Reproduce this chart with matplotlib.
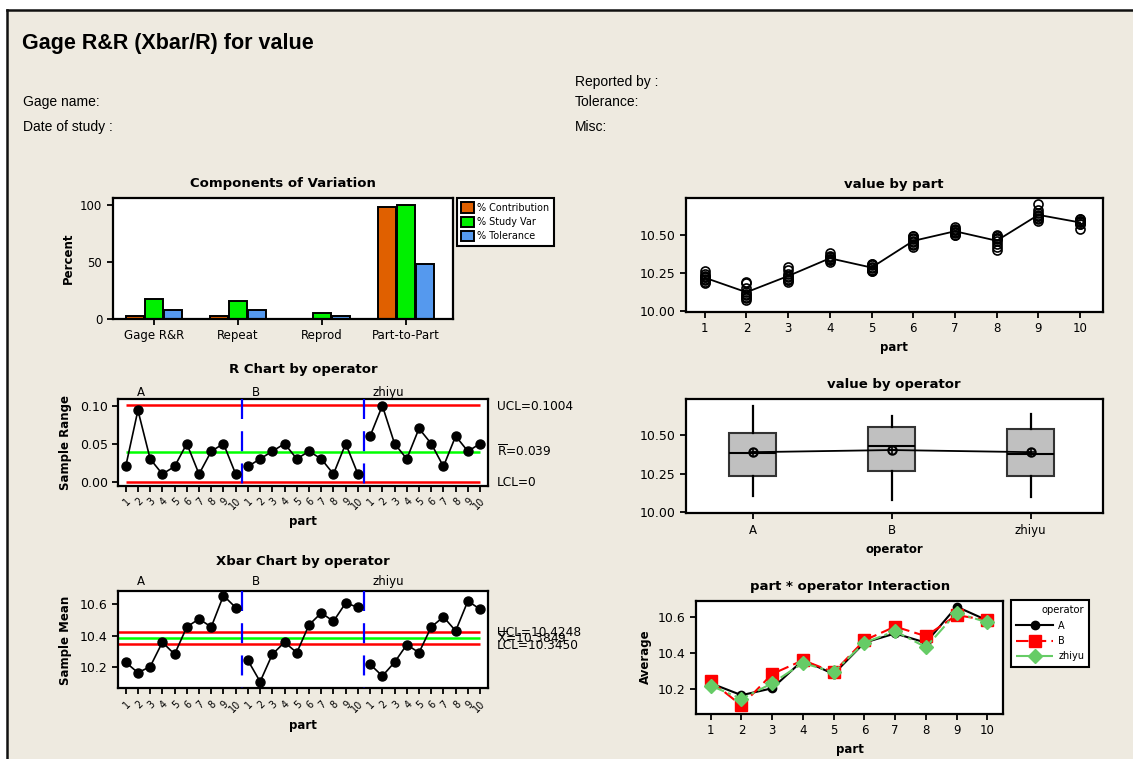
import numpy as np
import matplotlib
matplotlib.use("Agg")
from matplotlib import pyplot as plt
from matplotlib.lines import Line2D
from matplotlib.patches import Rectangle
import matplotlib.transforms as mtransforms
from matplotlib.ticker import FormatStrFormatter

plt.rcParams['font.family'] = ['DejaVu Sans']

# ---------------------------------------------------------------- data
components = ['Gage R&R', 'Repeat', 'Reprod', 'Part-to-Part']
pct_contribution = [3.0, 2.5, 0.3, 98.0]
pct_study_var = [17.2, 15.6, 5.0, 99.5]
pct_tolerance = [8.3, 8.1, 2.8, 48.0]

operators = ['A', 'B', 'zhiyu']
parts = np.arange(1, 11)

# sample ranges (3 trials) per part, one list per operator
range_A = [0.02, 0.094, 0.03, 0.01, 0.02, 0.05, 0.01, 0.04, 0.05, 0.01]
range_B = [0.02, 0.03, 0.04, 0.05, 0.03, 0.04, 0.03, 0.01, 0.05, 0.01]
range_zhiyu = [0.06, 0.10, 0.05, 0.03, 0.07, 0.05, 0.02, 0.06, 0.04, 0.05]

# sample means per part, one list per operator
mean_A = [10.232, 10.166, 10.204, 10.359, 10.283, 10.456, 10.507, 10.456, 10.655, 10.579]
mean_B = [10.244, 10.109, 10.283, 10.359, 10.293, 10.469, 10.545, 10.492, 10.608, 10.581]
mean_zhiyu = [10.219, 10.145, 10.232, 10.344, 10.293, 10.456, 10.520, 10.431, 10.621, 10.568]

r_ucl, r_bar, r_lcl = 0.1004, 0.039, 0.0
x_ucl, x_bar, x_lcl = 10.4248, 10.3849, 10.3450

# all measurements for each part
part_obs = [
    [10.18, 10.19, 10.20, 10.21, 10.22, 10.22, 10.23, 10.24, 10.26],
    [10.07, 10.08, 10.09, 10.10, 10.11, 10.12, 10.15, 10.18, 10.19],
    [10.19, 10.20, 10.20, 10.21, 10.22, 10.23, 10.24, 10.27, 10.29],
    [10.32, 10.33, 10.33, 10.34, 10.34, 10.35, 10.35, 10.36, 10.38],
    [10.26, 10.26, 10.27, 10.27, 10.28, 10.29, 10.30, 10.31, 10.31],
    [10.42, 10.43, 10.44, 10.45, 10.46, 10.47, 10.48, 10.49, 10.49],
    [10.50, 10.50, 10.51, 10.52, 10.52, 10.53, 10.53, 10.54, 10.55],
    [10.40, 10.42, 10.44, 10.46, 10.47, 10.48, 10.48, 10.49, 10.50],
    [10.59, 10.60, 10.61, 10.62, 10.62, 10.63, 10.64, 10.66, 10.70],
    [10.54, 10.57, 10.57, 10.58, 10.58, 10.59, 10.59, 10.60, 10.60],
]

# box plot summary per operator
op_q1 = [10.234, 10.266, 10.234]
op_med = [10.386, 10.428, 10.376]
op_q3 = [10.517, 10.554, 10.541]
op_lo = [10.105, 10.079, 10.094]
op_hi = [10.694, 10.628, 10.641]
op_mean = [10.390, 10.404, 10.390]

# ---------------------------------------------------------------- layout helpers
W, H = 1133, 759
BG = '#EEEAE0'


def rect(x0, y0, x1, y1):
    return [x0 / W, 1 - y1 / H, (x1 - x0) / W, (y1 - y0) / H]


def fx(x):
    return x / W


def fy(y):
    return 1 - y / H


def style_axes(ax, xsize=8.5, ysize=9):
    for sp in ax.spines.values():
        sp.set_linewidth(1.6)
    ax.tick_params(direction='out', length=4, width=1.3, labelsize=ysize)
    ax.tick_params(axis='x', labelsize=xsize)
    ax.tick_params(top=False, right=False)


def sep_lines(ax, ylo, yhi):
    for xv in (10.5, 20.5):
        ax.plot([xv, xv], [yhi, ylo], color='#0000FF', lw=1.6,
                ls=(0, (9, 5.5)), zorder=3)


def limit_labels(ax, items, fs=8.7):
    trans = mtransforms.blended_transform_factory(ax.transAxes, ax.transData)
    t = mtransforms.offset_copy(trans, fig=fig, y=-0.36 * fs, units='points')
    for val, txt in items:
        ax.text(1.023, val, txt, transform=t, fontsize=fs, va='baseline',
                ha='left', clip_on=False)


def operator_labels(ax, ypos):
    trans = mtransforms.blended_transform_factory(ax.transData, ax.transAxes)
    for xo, name in zip([1.9, 11.3, 21.2], operators):
        ax.text(xo, ypos, name, transform=trans, fontsize=8.5, va='baseline')


fig = plt.figure(figsize=(W / 100, H / 100), dpi=100)
fig.patch.set_facecolor('white')
fig.add_artist(Rectangle((fx(7), 0), 1 - fx(7), fy(10), transform=fig.transFigure,
                         facecolor=BG, edgecolor='none', zorder=-10))
fig.add_artist(Line2D([fx(7), fx(7)], [0, fy(10)], transform=fig.transFigure,
                      color='#111111', lw=1.8))
fig.add_artist(Line2D([fx(7), 1], [fy(10), fy(10)], transform=fig.transFigure,
                      color='#111111', lw=1.8))

# header
fig.text(fx(22), fy(49), 'Gage R&R (Xbar/R) for value', fontsize=15.5,
         fontweight='bold', family='Liberation Sans', va='baseline')
hdr = dict(fontsize=10, family='Liberation Sans', va='baseline')
fig.text(fx(23), fy(106), 'Gage name:', **hdr)
fig.text(fx(23), fy(131), 'Date of study :', **hdr)
fig.text(fx(575), fy(86), 'Reported by :', **hdr)
fig.text(fx(575), fy(106), 'Tolerance:', **hdr)
fig.text(fx(575), fy(131), 'Misc:', **hdr)

ttl = dict(fontsize=9.5, fontweight='bold', ha='center', va='baseline')
lab = dict(fontsize=8.5, fontweight='bold', ha='center', va='center')

# ---------------------------------------------------------------- components of variation
ax_c = fig.add_axes(rect(112.7, 198, 453, 319))
xc = np.arange(len(components))
bw = 0.22
ax_c.bar(xc - 0.225, pct_contribution, bw, color='#E06000', edgecolor='black',
         lw=1.4, label='% Contribution')
ax_c.bar(xc, pct_study_var, bw, color='#00F000', edgecolor='black',
         lw=1.4, label='% Study Var')
ax_c.bar(xc + 0.225, pct_tolerance, bw, color='#5599EE', edgecolor='black',
         lw=1.4, label='% Tolerance')
ax_c.set_xlim(-0.49, 3.56)
ax_c.set_ylim(0, 106)
ax_c.set_yticks([0, 50, 100])
ax_c.set_xticks(xc)
ax_c.set_xticklabels(components)
style_axes(ax_c, 8.5, 8.5)
leg = ax_c.legend(loc='upper left', bbox_to_anchor=(fx(457), fy(198)),
                  bbox_transform=fig.transFigure, fontsize=6.9, fancybox=False,
                  edgecolor='black', framealpha=1, handlelength=1.3,
                  handleheight=1.3, handletextpad=0.35, borderpad=0.45,
                  labelspacing=0.4, borderaxespad=0)
leg.get_frame().set_linewidth(1.5)
fig.text(fx(283), fy(187), 'Components of Variation', **ttl)
fig.text(fx(68), fy(258), 'Percent', rotation=90, **lab)

# ---------------------------------------------------------------- R chart
seq = np.arange(1, 31)
tick_names = [str(p) for p in np.tile(parts, 3)]

ax_r = fig.add_axes(rect(118.3, 399, 488.3, 485.7))
ax_r.hlines([r_ucl, r_lcl], 1, 30, colors='#FF0000', lw=1.8, zorder=2)
ax_r.hlines(r_bar, 1, 30, colors='#00FF00', lw=1.8, zorder=2)
for k, vals in enumerate([range_A, range_B, range_zhiyu]):
    ax_r.plot(parts + 10 * k, vals, '-o', color='black', ms=6.5, lw=1.2, zorder=4)
ax_r.set_xlim(0.394, 30.67)
ax_r.set_ylim(-0.0053, 0.1088)
sep_lines(ax_r, -0.0053, 0.1088)
ax_r.set_yticks([0.0, 0.05, 0.10])
ax_r.yaxis.set_major_formatter(FormatStrFormatter('%.2f'))
ax_r.set_xticks(seq)
ax_r.set_xticklabels(tick_names, rotation=45, ha='right', va='top',
                     rotation_mode='anchor')
style_axes(ax_r, 7, 9)
limit_labels(ax_r, [(r_ucl, 'UCL=0.1004'),
                    (r_bar, r'$\overline{\mathrm{R}}$=0.039'),
                    (r_lcl, 'LCL=0')])
operator_labels(ax_r, 1.03)
fig.text(fx(303), fy(373), 'R Chart by operator', **ttl)
fig.text(fx(66), fy(442), 'Sample Range', rotation=90, **lab)
fig.text(fx(303), fy(522), 'part', **lab)

# ---------------------------------------------------------------- Xbar chart
ax_x = fig.add_axes(rect(118.3, 590.7, 488.3, 688.3))
ax_x.hlines([x_ucl, x_lcl], 0.394, 30, colors='#FF0000', lw=1.8, zorder=2)
ax_x.hlines(x_bar, 0.394, 30, colors='#00FF00', lw=1.8, zorder=2)
for k, vals in enumerate([mean_A, mean_B, mean_zhiyu]):
    ax_x.plot(parts + 10 * k, vals, '-o', color='black', ms=6.5, lw=1.2, zorder=4)
ax_x.set_xlim(0.394, 30.67)
ax_x.set_ylim(10.067, 10.686)
sep_lines(ax_x, 10.067, 10.686)
ax_x.set_yticks([10.2, 10.4, 10.6])
ax_x.yaxis.set_major_formatter(FormatStrFormatter('%.1f'))
ax_x.set_xticks(seq)
ax_x.set_xticklabels(tick_names, rotation=45, ha='right', va='top',
                     rotation_mode='anchor')
style_axes(ax_x, 7, 9)
limit_labels(ax_x, [(x_ucl, 'UCL=10.4248'),
                    (x_bar, r'$\overline{\mathrm{X}}$=10.3849'),
                    (x_lcl, 'LCL=10.3450')])
operator_labels(ax_x, 1.058)
fig.text(fx(303), fy(565), 'Xbar Chart by operator', **ttl)
fig.text(fx(66), fy(640), 'Sample Mean', rotation=90, **lab)
fig.text(fx(303), fy(726), 'part', **lab)

# ---------------------------------------------------------------- value by part
ax_p = fig.add_axes(rect(686, 198.3, 1103, 311.7))
for p, vals in zip(parts, part_obs):
    ax_p.plot([p] * len(vals), vals, 'o', mfc='none', mec='black', ms=6.5, mew=1.2)
ax_p.plot(parts, [np.mean(v) for v in part_obs], '-', color='black', lw=1.3)
ax_p.set_xlim(0.55, 10.55)
ax_p.set_ylim(9.993, 10.739)
ax_p.set_xticks(parts)
ax_p.set_yticks([10.0, 10.25, 10.5])
ax_p.yaxis.set_major_formatter(FormatStrFormatter('%.2f'))
style_axes(ax_p)
fig.text(fx(894), fy(188), 'value by part', **ttl)
fig.text(fx(894), fy(348), 'part', **lab)

# ---------------------------------------------------------------- value by operator
ax_o = fig.add_axes(rect(686, 399.3, 1103, 513.3))
stats = [dict(label=op, q1=a, med=b, q3=c, whislo=d, whishi=e, fliers=[])
         for op, a, b, c, d, e in zip(operators, op_q1, op_med, op_q3, op_lo, op_hi)]
ax_o.bxp(stats, positions=[1, 2, 3], widths=0.34, patch_artist=True,
         showcaps=False, showfliers=False,
         boxprops=dict(facecolor='#C0C0C0', edgecolor='#333333', lw=1.5),
         medianprops=dict(color='black', lw=1.5),
         whiskerprops=dict(color='black', lw=1.6))
ax_o.plot([1, 2, 3], op_mean, '-', color='black', lw=1.3, zorder=5)
ax_o.plot([1, 2, 3], op_mean, 'o', mfc='none', mec='black', ms=6, mew=1.5, zorder=6)
ax_o.plot([1, 2, 3], op_mean, '+', color='black', ms=6, mew=1.2, zorder=6)
ax_o.set_xlim(0.52, 3.52)
ax_o.set_ylim(9.99, 10.736)
ax_o.set_yticks([10.0, 10.25, 10.5])
ax_o.yaxis.set_major_formatter(FormatStrFormatter('%.2f'))
ax_o.set_xticks([1, 2, 3])
ax_o.set_xticklabels(operators)
style_axes(ax_o)
fig.text(fx(894), fy(388), 'value by operator', **ttl)
fig.text(fx(894), fy(549), 'operator', **lab)

# ---------------------------------------------------------------- interaction
ax_i = fig.add_axes(rect(696, 600.7, 1003.3, 714))
ax_i.plot(parts, mean_A, color='black', lw=1.5, marker='o', ms=6, label='A')
ax_i.plot(parts, mean_B, color='#FF0000', lw=1.5, ls=(0, (6, 2.5)), marker='s',
          ms=8, label='B')
ax_i.plot(parts, mean_zhiyu, color='#66CC66', lw=1.5, ls=(0, (7, 2, 1.5, 2)),
          marker='D', ms=7.5, label='zhiyu')
ax_i.set_xlim(0.52, 10.52)
ax_i.set_ylim(10.062, 10.688)
ax_i.set_xticks(parts)
ax_i.set_yticks([10.2, 10.4, 10.6])
ax_i.yaxis.set_major_formatter(FormatStrFormatter('%.1f'))
style_axes(ax_i)
leg = ax_i.legend(title='operator', loc='upper left',
                  bbox_to_anchor=(fx(1011), fy(600)), bbox_transform=fig.transFigure,
                  fontsize=7, title_fontsize=7.2, alignment='right',
                  fancybox=False, edgecolor='black', framealpha=1,
                  handlelength=3.8, handletextpad=0.5, labelspacing=0.55,
                  borderpad=0.55, borderaxespad=0)
leg.get_frame().set_linewidth(1.5)
fig.text(fx(850), fy(590), 'part * operator Interaction', **ttl)
fig.text(fx(645), fy(657), 'Average', rotation=90, **lab)
fig.text(fx(850), fy(749), 'part', **lab)

plt.savefig('out.png', dpi=100)
plt.close()
